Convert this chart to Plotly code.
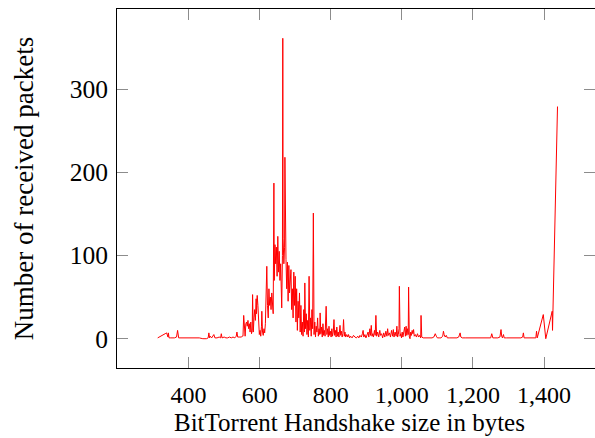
import plotly.graph_objects as go

# Handshake size (bytes) and number of received packets
sizes = [
    313, 320, 328, 334, 338, 340, 342, 343, 345, 350, 360, 366, 369, 372, 380, 390, 400, 410, 420, 430,
    440, 450, 455, 457, 459, 461, 465, 468, 471, 474, 480, 486, 490, 492, 494, 500, 505, 510, 515, 520,
    525, 530, 534, 536, 538, 542, 548, 551,
    553, 555, 557, 559, 561, 563, 565, 567, 569, 571, 573, 575, 577, 579, 580, 582, 584, 586, 588, 590,
    591, 593, 595, 597, 599, 601, 603, 605, 606, 608, 610, 612, 614, 616, 618, 620, 622, 624, 626, 628,
    630, 632, 634, 636, 638, 640, 641, 643, 645, 647, 649, 651, 653, 655, 657, 659, 661, 662, 664, 665,
    666, 668, 670, 671, 672, 674, 676, 678, 680, 682, 684, 686, 688, 690, 692, 694, 696, 698, 700, 702,
    704, 706, 708, 710, 712, 714, 716, 718, 720, 722, 724, 726, 727, 729, 731, 733, 735, 737, 739, 741,
    743, 745, 747, 749, 751, 753, 755, 757, 759, 761, 763, 765, 767, 769, 770, 772, 774, 776, 778, 780,
    782, 784, 787, 789, 791, 793, 795, 797, 799, 801, 803, 805, 807, 809, 811, 813, 815, 817, 819, 821,
    823, 826, 828, 830, 832, 834, 836, 838, 840, 842, 845, 848, 850, 853, 856, 860, 864, 868, 872, 876,
    879, 882, 886, 889, 891, 893, 896, 899, 902, 905, 907, 910, 912, 914, 916, 918, 920, 923, 925, 927,
    929, 932, 935, 938, 940, 943, 946, 949, 952, 955, 958, 960, 962, 965, 968, 971, 974, 976, 978, 981,
    984, 986, 988, 990, 992, 993, 995, 997, 999, 1001, 1003, 1006, 1008, 1010, 1012, 1014, 1016, 1018, 1019, 1021,
    1023, 1025, 1027, 1029, 1031, 1033, 1035, 1038, 1041, 1044, 1047, 1050, 1053, 1054, 1056, 1060, 1065, 1070, 1075, 1080,
    1085, 1090, 1094, 1097, 1100, 1105, 1110, 1115, 1117, 1119, 1122, 1125, 1128, 1135, 1140, 1145, 1150, 1155, 1160, 1162,
    1164, 1166, 1170, 1180, 1190, 1200, 1210, 1220, 1230, 1240, 1250, 1253, 1256, 1262, 1270, 1276, 1279, 1281, 1283, 1286,
    1288, 1295, 1305, 1315, 1325, 1335, 1340, 1342, 1344, 1350, 1360, 1370, 1377, 1379, 1381, 1398, 1405, 1423, 1424, 1438,
]
packets = [
    1, 3, 5, 6, 7, 2, 2, 7, 1, 1, 1, 2, 10, 1, 1, 1, 1, 1, 1, 1,
    0, 0, 1, 7, 1, 3, 1, 4, 5, 1, 1, 2, 1, 6, 1, 2, 1, 1, 2, 1,
    2, 1, 3, 8, 2, 2, 2, 3,
    3, 28, 4, 3, 18, 20, 15, 22, 12, 18, 8, 20, 6, 10, 53, 8, 25, 35, 22, 48,
    30, 52, 40, 15, 5, 10, 3, 15, 33, 8, 4, 12, 7, 18, 45, 87, 40, 25, 60, 40,
    50, 35, 55, 38, 30, 187, 70, 113, 90, 110, 75, 123, 80, 105, 70, 90, 55, 37, 100, 361,
    120, 90, 110, 218, 150, 95, 60, 92, 45, 88, 55, 70, 83, 35, 60, 25, 80, 40, 75, 20,
    60, 10, 45, 25, 55, 8, 40, 5, 20, 3, 35, 8, 67, 12, 30, 5, 22, 2, 75, 10,
    25, 3, 35, 12, 151, 5, 20, 2, 15, 8, 25, 3, 12, 5, 31, 6, 14, 2, 18, 4,
    10, 3, 39, 5, 12, 2, 15, 4, 9, 2, 12, 3, 8, 23, 4, 10, 2, 14, 3, 8,
    2, 16, 4, 9, 2, 6, 23, 3, 8, 2, 5, 2, 5, 1, 3, 1, 4, 2, 1, 3,
    1, 4, 2, 6, 10, 2, 5, 1, 4, 8, 2, 12, 4, 16, 3, 6, 2, 10, 4, 28,
    3, 8, 2, 10, 4, 6, 1, 7, 2, 9, 3, 12, 4, 7, 2, 10, 3, 11, 2, 8,
    3, 15, 2, 5, 12, 63, 3, 6, 1, 8, 2, 10, 14, 3, 15, 4, 12, 5, 62, 2,
    0, 8, 4, 10, 6, 11, 3, 5, 2, 6, 2, 4, 1, 28, 2, 1, 1, 1, 1, 1,
    1, 2, 6, 3, 1, 1, 1, 3, 9, 5, 2, 4, 1, 1, 1, 1, 1, 1, 2, 4,
    7, 2, 1, 1, 1, 1, 1, 1, 1, 1, 1, 6, 1, 1, 1, 2, 11, 3, 1, 5,
    1, 1, 1, 1, 1, 1, 2, 7, 1, 1, 1, 1, 1, 9, 1, 29, 0, 33, 10, 279,
]

x_ticks = [400, 600, 800, 1000, 1200, 1400]
y_ticks = [0, 100, 200, 300]
x_title = "BitTorrent Handshake size in bytes"
y_title = "Number of received packets"

x_range = [198.5, 1543.5]
y_range = [-35.2, 396.2]

FONT = "Liberation Serif, Times New Roman, serif"

fig = go.Figure()
fig.add_trace(go.Scatter(x=sizes, y=packets, mode="lines",
                         line=dict(color="red", width=1), showlegend=False))
# helper trace so the right-side tick axis is drawn
fig.add_trace(go.Scatter(x=[None], y=[None], xaxis="x", yaxis="y2",
                         showlegend=False, hoverinfo="skip"))

fig.update_layout(
    width=595, height=438,
    margin=dict(l=117, r=0, t=9, b=70),
    paper_bgcolor="white", plot_bgcolor="white",
    font=dict(family=FONT, color="black", size=25),
    xaxis=dict(
        range=x_range, tickvals=x_ticks, tickformat=",",
        ticks="inside", ticklen=11, tickcolor="#8c8c8c", tickwidth=1,
        showline=True, linecolor="black", linewidth=1, mirror="ticks",
        showgrid=False, zeroline=False,
        tickfont=dict(size=24), ticklabelstandoff=5,
    ),
    yaxis=dict(
        range=y_range, tickvals=y_ticks,
        ticks="inside", ticklen=11, tickcolor="#8c8c8c", tickwidth=1,
        showline=True, linecolor="black", linewidth=1, mirror=False,
        showgrid=False, zeroline=False,
        tickfont=dict(size=25.5), ticklabelstandoff=3,
        title=dict(text=y_title, font=dict(size=27), standoff=28),
    ),
    yaxis2=dict(
        range=y_range, tickvals=y_ticks, overlaying="y", side="right",
        ticks="inside", ticklen=11, tickcolor="#8c8c8c", tickwidth=1,
        showline=False, showgrid=False, zeroline=False, showticklabels=False,
    ),
    annotations=[dict(
        text=x_title, xref="paper", yref="paper",
        x=(349.5 - 117) / 478, y=(368 - 423) / 359,
        xanchor="center", yanchor="middle", showarrow=False, borderpad=0,
        font=dict(size=25, family=FONT, color="black"),
    )],
)

fig.write_html("out.html")
